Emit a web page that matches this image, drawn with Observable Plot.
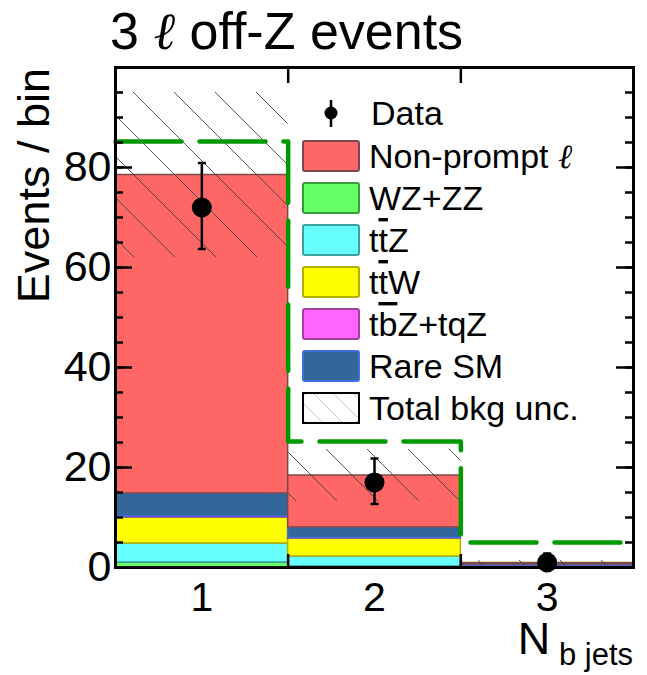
<!DOCTYPE html>
<html>
<head>
<meta charset="utf-8">
<script src="https://cdn.jsdelivr.net/npm/d3@7"></script>
<script src="https://cdn.jsdelivr.net/npm/@observablehq/plot@0.6"></script>
<style>
  html, body { margin: 0; padding: 0; background: #fff; }
  #chart svg { display: block; }
</style>
</head>
<body>
<div id="chart"></div>
<script>
// ---- data ----
const bins = [1, 2, 3];
const binEdges = [0.5, 1.5, 2.5, 3.5];
const processes = ["WZ+ZZ", "ttZ", "ttW", "tbZ+tqZ", "Rare SM", "Non-prompt"];
const wzzz      = [1.0, 0.2, 0.05];
const ttz       = [3.8, 2.0, 0.15];
const ttw       = [5.2, 3.6, 0.15];
const tbz       = [0.2, 0.1, 0.05];
const rareSM    = [4.6, 2.1, 0.2];
const nonPrompt = [63.7, 10.4, 0.3];
const bkgUnc    = [16.5, 5.2, 0.5];
const dataVals  = [72, 17, 1];
const dataErrUp = [8.9, 4.8, 1.8];
const dataErrDn = [8.3, 4.3, 0.8];
const signalVals = [85.2, 25.2, 5.0];
const yMajorTicks = [0, 20, 40, 60, 80];
const yMinorTicks = d3.range(0, 101, 5);
const xTickLabels = ["1", "2", "3"];
const xEdgeTicks = [1.5, 2.5];

const fills   = ["#66ff66", "#66ffff", "#ffff00", "#ff66ff", "#336699", "#ff6666"];
const strokes = ["#3a9a3a", "#3aa0a0", "#b0b000", "#a040a0", "#3f6fe0", "#7a4a4a"];
const series  = [wzzz, ttz, ttw, tbz, rareSM, nonPrompt];

// stacked segments
const stack = [];
bins.forEach((b, i) => {
  let base = 0;
  series.forEach((s, k) => {
    stack.push({x1: binEdges[i], x2: binEdges[i + 1], y1: base, y2: base + s[i], k});
    base += s[i];
  });
});
const totals = bins.map((b, i) => d3.sum(series, s => s[i]));
const uncBand = bins.map((b, i) => ({x1: binEdges[i], x2: binEdges[i + 1], y1: totals[i] - bkgUnc[i], y2: totals[i] + bkgUnc[i]}));
const dataPts = bins.map((b, i) => ({x: b, y: dataVals[i], lo: dataVals[i] - dataErrDn[i], hi: dataVals[i] + dataErrUp[i]}));
const signalStep = binEdges.map((e, i) => ({x: e, y: signalVals[Math.min(i, signalVals.length - 1)]}));

const W = 647, H = 675;
const mL = 115, mR = 14, mT = 67, mB = 108;
const fw = W - mL - mR, fh = H - mT - mB;

const capSymbol = {draw(ctx, size) { const w = 4; ctx.moveTo(-w, 0); ctx.lineTo(w, 0); }};

const chart = Plot.plot({
  width: W, height: H,
  marginLeft: mL, marginRight: mR, marginTop: mT, marginBottom: mB,
  x: {domain: [0.5, 3.5]},
  y: {domain: [0, 100]},
  style: {fontFamily: "'Liberation Sans', Arial, sans-serif", fontSize: "43px", color: "black", background: "white"},
  marks: [
    Plot.rect(stack, {x1: "x1", x2: "x2", y1: "y1", y2: "y2", fill: d => fills[d.k], stroke: d => strokes[d.k], strokeWidth: 1.5}),
    Plot.rect(uncBand, {x1: "x1", x2: "x2", y1: "y1", y2: "y2", fill: "url(#hatch)"}),
    Plot.line(signalStep, {x: "x", y: "y", curve: "step-after", stroke: "#009900", strokeWidth: 4.5, strokeDasharray: "66,18"}),
    Plot.ruleX(dataPts, {x: "x", y1: "lo", y2: "hi", stroke: "black", strokeWidth: 2.5}),
    Plot.dot(dataPts, {x: "x", y: "lo", symbol: capSymbol, stroke: "black", strokeWidth: 2.5}),
    Plot.dot(dataPts, {x: "x", y: "hi", symbol: capSymbol, stroke: "black", strokeWidth: 2.5}),
    Plot.dot(dataPts, {x: "x", y: "y", r: 10, fill: "black"}),
    // ticks (ROOT style, inward)
    Plot.tickY(yMajorTicks, {y: d => d, insetRight: fw - 17, stroke: "black", strokeWidth: 2.5}),
    Plot.tickY(yMinorTicks, {y: d => d, insetRight: fw - 8, stroke: "black", strokeWidth: 2.5}),
    Plot.tickY(yMajorTicks, {y: d => d, insetLeft: fw - 17, stroke: "black", strokeWidth: 2.5}),
    Plot.tickY(yMinorTicks, {y: d => d, insetLeft: fw - 8, stroke: "black", strokeWidth: 2.5}),
    Plot.tickX(xEdgeTicks, {x: d => d, insetBottom: fh - 16, stroke: "black", strokeWidth: 2.5}),
    Plot.tickX(xEdgeTicks, {x: d => d, insetTop: fh - 13, stroke: "black", strokeWidth: 2.5}),
    Plot.axisY({ticks: yMajorTicks, tickSize: 0, tickPadding: 4, label: null, fontSize: 43}),
    Plot.axisX({ticks: bins, tickFormat: (d, i) => xTickLabels[i], tickSize: 0, tickPadding: 14, label: null, fontSize: 41}),
    Plot.frame({stroke: "black", strokeWidth: 3})
  ]
});

const svg = d3.select(chart);
const defs = svg.insert("defs", ":first-child");
const pat = defs.append("pattern").attr("id", "hatch").attr("patternUnits", "userSpaceOnUse")
  .attr("width", 41).attr("height", 41);
pat.append("path").attr("d", "M0,0L41,41M-2,39L2,43M39,-2L43,2")
  .attr("stroke", "#444").attr("stroke-width", 0.9).attr("fill", "none");

const FF = "'Liberation Sans', Arial, sans-serif";
// title
const title = svg.append("text").attr("x", 110).attr("y", 49).attr("text-anchor", "start").attr("font-size", 52).attr("font-family", FF).attr("fill", "black");
title.append("tspan").text("3 ");
title.append("tspan").attr("font-family", "'DejaVu Serif', serif").attr("font-style", "italic").text("ℓ");
title.append("tspan").text(" off-Z events");

// y label
svg.append("text").attr("transform", "translate(49,68) rotate(-90)").attr("text-anchor", "end")
  .attr("font-size", 45).attr("font-family", FF).attr("fill", "black").text("Events / bin");

// x label
const xl = svg.append("text").attr("x", 633).attr("y", 654).attr("text-anchor", "end").attr("font-family", FF).attr("fill", "black");
xl.append("tspan").attr("font-size", 45).text("N");
xl.append("tspan").attr("font-size", 31).attr("dy", 11).text(" b jets");

// legend
const lg = svg.append("g").attr("font-family", FF).attr("font-size", 34).attr("fill", "black").attr("text-anchor", "start");
const rowY = i => 156 + 42 * i;
// data entry
lg.append("line").attr("x1", 331).attr("x2", 331).attr("y1", 100).attr("y2", 127).attr("stroke", "black").attr("stroke-width", 2.5);
lg.append("circle").attr("cx", 331).attr("cy", 113).attr("r", 6.5).attr("fill", "black");
lg.append("text").attr("x", 371).attr("y", 113 + 12).attr("text-anchor", "start").text("Data");
const legendLabels = [
  [["Non-prompt ", null], ["ℓ", "ell"]],
  [["WZ+ZZ", null]],
  [["t", null], ["t", "bar"], ["Z", null]],
  [["t", null], ["t", "bar"], ["W", null]],
  [["t", null], ["b", "bar"], ["Z+tqZ", null]],
  [["Rare SM", null]],
  [["Total bkg unc.", null]]
];
const legendFill = [fills[5], fills[0], fills[1], fills[2], fills[3], fills[4], "white"];
const legendStroke = [strokes[5], strokes[0], strokes[1], strokes[2], strokes[3], strokes[4], "black"];
const patL = defs.append("pattern").attr("id", "hatchL").attr("patternUnits", "userSpaceOnUse").attr("width", 20).attr("height", 20);
patL.append("path").attr("d", "M0,0L20,20M-2,18L2,22M18,-2L22,2").attr("stroke", "#bbb").attr("stroke-width", 0.8);
legendLabels.forEach((parts, i) => {
  const cy = rowY(i);
  lg.append("rect").attr("x", 303).attr("y", cy - 15).attr("width", 56).attr("height", 30)
    .attr("rx", 2).attr("fill", legendFill[i]).attr("stroke", legendStroke[i]).attr("stroke-width", 2);
  if (i === 6) lg.append("rect").attr("x", 303).attr("y", cy - 15).attr("width", 56).attr("height", 30)
    .attr("fill", "url(#hatchL)").attr("stroke", "black").attr("stroke-width", 2);
  const t = lg.append("text").attr("x", 369).attr("y", cy + 12).attr("text-anchor", "start");
  parts.forEach(([s, kind]) => {
    const ts = t.append("tspan").text(s);
    if (kind === "bar") ts.style("text-decoration", "overline");
    if (kind === "ell") ts.attr("font-family", "'DejaVu Serif', serif").attr("font-style", "italic");
  });
});

document.getElementById("chart").appendChild(chart);
</script>
</body>
</html>
